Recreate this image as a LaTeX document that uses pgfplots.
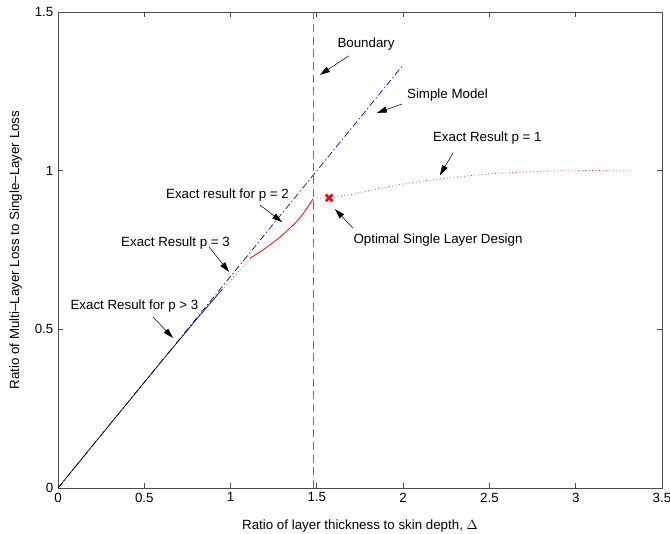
\documentclass[border=0pt]{standalone}
\usepackage{fontspec}
\setmainfont{Liberation Sans}
\usepackage{pgfplots}
\pgfplotsset{compat=1.18}
\usetikzlibrary{arrows.meta}
\begin{document}
\begin{tikzpicture}
\begin{axis}[
  name=ax,
  scale only axis, width=453pt, height=357pt,
  xmin=0, xmax=3.5, ymin=0, ymax=1.5,
  xtick={0,0.5,1,1.5,2,2.5,3,3.5},
  ytick={0,0.5,1,1.5},
  tick align=inside,
  major tick length=4pt,
  axis line style={black!70, line width=0.6pt},
  tick style={black!70, line width=0.6pt},
  /pgf/number format/assume math mode=true,
  tick label style={font=\fontsize{10}{12}\selectfont},
  label style={font=\fontsize{10}{12}\selectfont},
  xlabel={Ratio of layer thickness to skin depth, $\Delta$},
  ylabel={Ratio of Multi--Layer Loss to Single--Layer Loss},
  xlabel style={at={(axis description cs:0.5,-0.08)}, anchor=center},
  ylabel style={at={(axis description cs:-0.07,0.5)}, anchor=center},
  clip=false,
]
% Boundary
\addplot[black!55, line width=0.7pt, dash pattern=on 6pt off 3.5pt] coordinates {(1.48,0) (1.48,1.5)};
% Simple model
\addplot[blue!80!black, line width=0.5pt, dash pattern=on 5pt off 2pt on 1pt off 2pt] coordinates {(0,0) (2,1.3333)};
% Exact result p>3
\addplot[black!80!blue, line width=0.5pt] coordinates {(0,0) (0.3,0.2) (0.6,0.399) (0.8,0.53) (0.95,0.625)};
% Exact result p=3
\addplot[green!65!black, line width=0.6pt, dotted] coordinates {(0.87,0.575) (0.95,0.624) (1.0,0.655) (1.06,0.69) (1.12,0.724)};
% Exact result p=2
\addplot[red, line width=0.6pt, smooth] coordinates {(1.112,0.724) (1.2,0.755) (1.3,0.797) (1.4,0.850) (1.479,0.912)};
% Exact result p=1
\addplot[red!80, line width=0.6pt, dotted, smooth] coordinates {(1.5,0.914) (1.571,0.914) (1.7,0.925) (1.8,0.937) (1.9,0.948) (2.0,0.958) (2.2,0.973) (2.4,0.985) (2.6,0.993) (2.8,0.998) (3.0,1.0) (3.2,1.0) (3.33,1.0)};
% Optimal single layer design
\addplot[red, only marks, mark=x, mark size=3.5pt, line width=2pt] coordinates {(1.571,0.914)};

\begin{scope}[font=\fontsize{10}{12}\selectfont]
\node at (axis cs:1.785,1.40) {Boundary};
\draw[-{Triangle[length=7.5pt,width=4.5pt]}] (axis cs:1.686,1.362) -- (axis cs:1.518,1.302);
\node at (axis cs:2.257,1.239) {Simple Model};
\draw[-{Triangle[length=7.5pt,width=4.5pt]}] (axis cs:1.993,1.210) -- (axis cs:1.848,1.182);
\node at (axis cs:2.488,1.103) {Exact Result p = 1};
\draw[-{Triangle[length=7.5pt,width=4.5pt]}] (axis cs:2.289,1.056) -- (axis cs:2.213,0.986);
\node at (axis cs:0.982,0.923) {Exact result for p = 2};
\draw[-{Triangle[length=7.5pt,width=4.5pt]}] (axis cs:1.170,0.892) -- (axis cs:1.298,0.838);
\node at (axis cs:0.681,0.772) {Exact Result p = 3};
\draw[-{Triangle[length=7.5pt,width=4.5pt]}] (axis cs:0.875,0.760) -- (axis cs:0.991,0.681);
\node at (axis cs:0.443,0.574) {Exact Result for p > 3};
\draw[-{Triangle[length=7.5pt,width=4.5pt]}] (axis cs:0.550,0.539) -- (axis cs:0.666,0.473);
\node at (axis cs:2.202,0.782) {Optimal Single Layer Design};
\draw[-{Triangle[length=7.5pt,width=4.5pt]}] (axis cs:1.709,0.819) -- (axis cs:1.605,0.879);
\end{scope}
\end{axis}
\pgfresetboundingbox
\path ([shift={(-43.5pt,-34pt)}]ax.south west) rectangle ([shift={(6pt,9pt)}]ax.north east);
\end{tikzpicture}
\end{document}
